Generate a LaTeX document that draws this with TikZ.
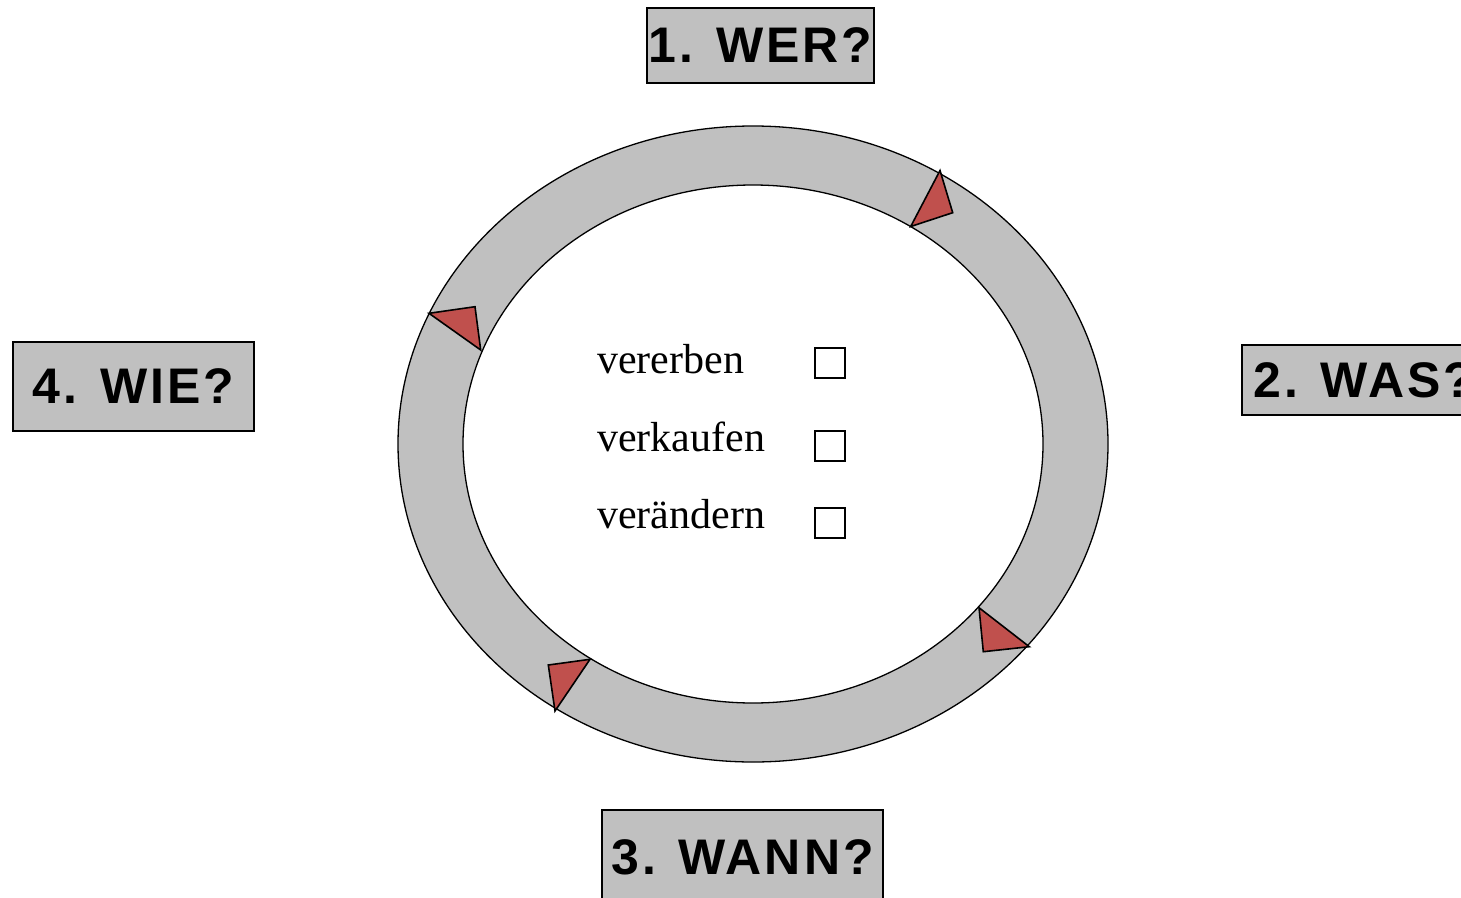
\documentclass[tikz,border=0pt]{standalone}
\usepackage{fontspec}
\setmainfont{Liberation Serif}
\newfontfamily\boxfont[LetterSpace=6]{Liberation Sans}
\definecolor{ringgray}{RGB}{192,192,192}
\definecolor{arrowred}{RGB}{192,80,77}
\begin{document}
\begin{tikzpicture}[x=1pt,y=-1pt,
  qbox/.style={draw=black,line width=1.3pt,fill=ringgray,inner sep=0pt,
    font=\boxfont\fontsize{50}{58}\selectfont\bfseries},
  lbl/.style={anchor=base west,inner sep=0pt,font=\fontsize{42}{50}\selectfont},
  cbox/.style={draw=black,line width=1.2pt,minimum size=30pt,inner sep=0pt},
  tri/.style={draw=black,line width=1.6pt,fill=arrowred,line join=miter}]
\clip (0,0) rectangle (1461,897);
\fill[white] (0,0) rectangle (1461,897);
% ring
\filldraw[fill=ringgray,draw=black,line width=1.3pt,even odd rule]
  (753,444) ellipse [x radius=355,y radius=318]
  (753,444) ellipse [x radius=290,y radius=259];
% arrowheads
\draw[tri] (940,170.5) -- (952.7,212.7) -- (910.7,226.5) -- cycle;
\draw[tri] (429,313.3) -- (475,306.7) -- (480.7,350) -- cycle;
\draw[tri] (979,607.7) -- (1029.3,646.7) -- (983.3,651.7) -- cycle;
\draw[tri] (548.3,665) -- (590,659.3) -- (555,711) -- cycle;
% boxes
\node[qbox,minimum width=227pt,minimum height=75pt] (wer) at (760.5,45.5) {1. WER?};
\node[qbox,minimum width=244pt,minimum height=70pt] (was) at (1364,380) {2. WAS?};
\node[qbox,minimum width=281pt,minimum height=95pt] (wann) at (742.5,857.5) {3. WANN?};
\node[qbox,minimum width=241pt,minimum height=89pt] (wie) at (133.5,386.5) {4. WIE?};
% list
\node[lbl] (l1) at (597,373) {vererben};
\node[lbl] (l2) at (597,451) {verkaufen};
\node[lbl] (l3) at (597,528) {verändern};
\node[cbox] (c1) at (830,363) {};
\node[cbox] (c2) at (830,446) {};
\node[cbox] (c3) at (830,523) {};
\end{tikzpicture}
\end{document}
